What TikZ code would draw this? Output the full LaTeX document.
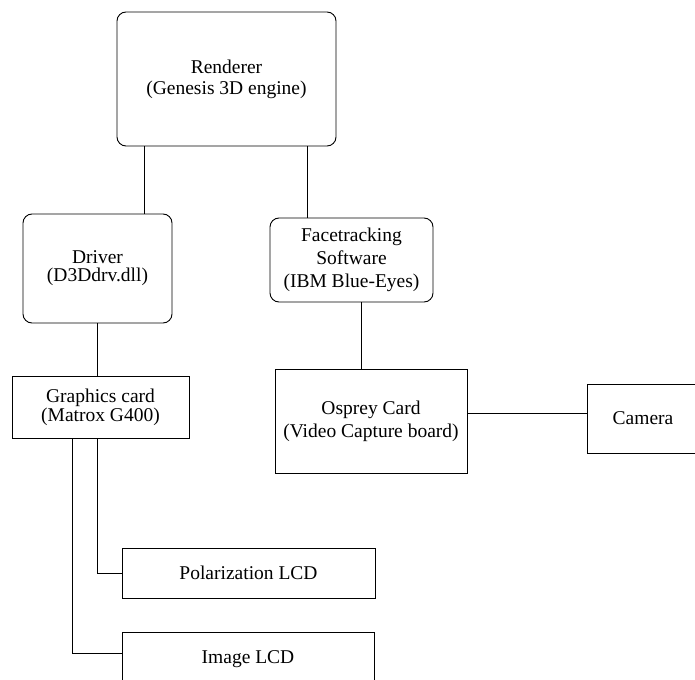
\documentclass[tikz,border=0pt]{standalone}
\usepackage{fontspec}
\setmainfont{Liberation Serif}
\begin{document}
\begin{tikzpicture}[x=1pt,y=-1pt,
  every node/.style={font=\fontsize{19.5}{21}\selectfont, align=center, inner sep=0pt},
  rbox/.style={draw, line width=0.9pt, rounded corners=9pt},
  sbox/.style={draw, line width=0.9pt},
  conn/.style={line width=0.9pt}]
\useasboundingbox (0,0) rectangle (695,679);
\clip (0,0) rectangle (695,679);
\node[rbox, minimum width=219pt, minimum height=134pt] (renderer) at (226.5,79) {Renderer\\(Genesis 3D engine)};
\node[rbox, minimum width=149pt, minimum height=109pt, font=\fontsize{19.5}{18}\selectfont] (driver) at (97.5,268.5) {Driver\\(D3Ddrv.dll)};
\node[rbox, minimum width=163pt, minimum height=84pt, font=\fontsize{19.5}{23}\selectfont] (face) at (351.5,260) {Facetracking\\Software\\(IBM Blue-Eyes)};
\node[sbox, minimum width=177pt, minimum height=62pt, font=\fontsize{19.5}{17}\selectfont] (gcard) at (100.5,407) {Graphics card\\(Matrox G400)};
\node[sbox, minimum width=192pt, minimum height=104pt, font=\fontsize{19.5}{23}\selectfont] (osprey) at (371,421) {Osprey Card\\(Video Capture board)};
\node[sbox, minimum width=112pt, minimum height=69pt] (camera) at (643,418.5) {Camera};
\node[sbox, minimum width=253pt, minimum height=50pt] (polar) at (248.5,573) {Polarization LCD};
\node[sbox, minimum width=252pt, minimum height=54pt] (image) at (248,659) {Image LCD};
\draw[conn] ([xshift=28pt]renderer.south west) -- ([xshift=28pt]renderer.south west |- driver.north);
\draw[conn] ([xshift=-29pt]renderer.south east) -- ([xshift=-29pt]renderer.south east |- face.north);
\draw[conn] (driver.south) -- (driver.south |- gcard.north);
\draw[conn] ([xshift=9.5pt]face.south) -- ([xshift=9.5pt]face.south |- osprey.north);
\draw[conn] ([yshift=8pt]osprey.east) -- ([yshift=8pt]osprey.east -| camera.west);
\draw[conn] ([xshift=-3.5pt]gcard.south) |- (polar.west);
\draw[conn] ([xshift=-28.5pt]gcard.south) |- ([yshift=6pt]image.west);
\end{tikzpicture}
\end{document}
